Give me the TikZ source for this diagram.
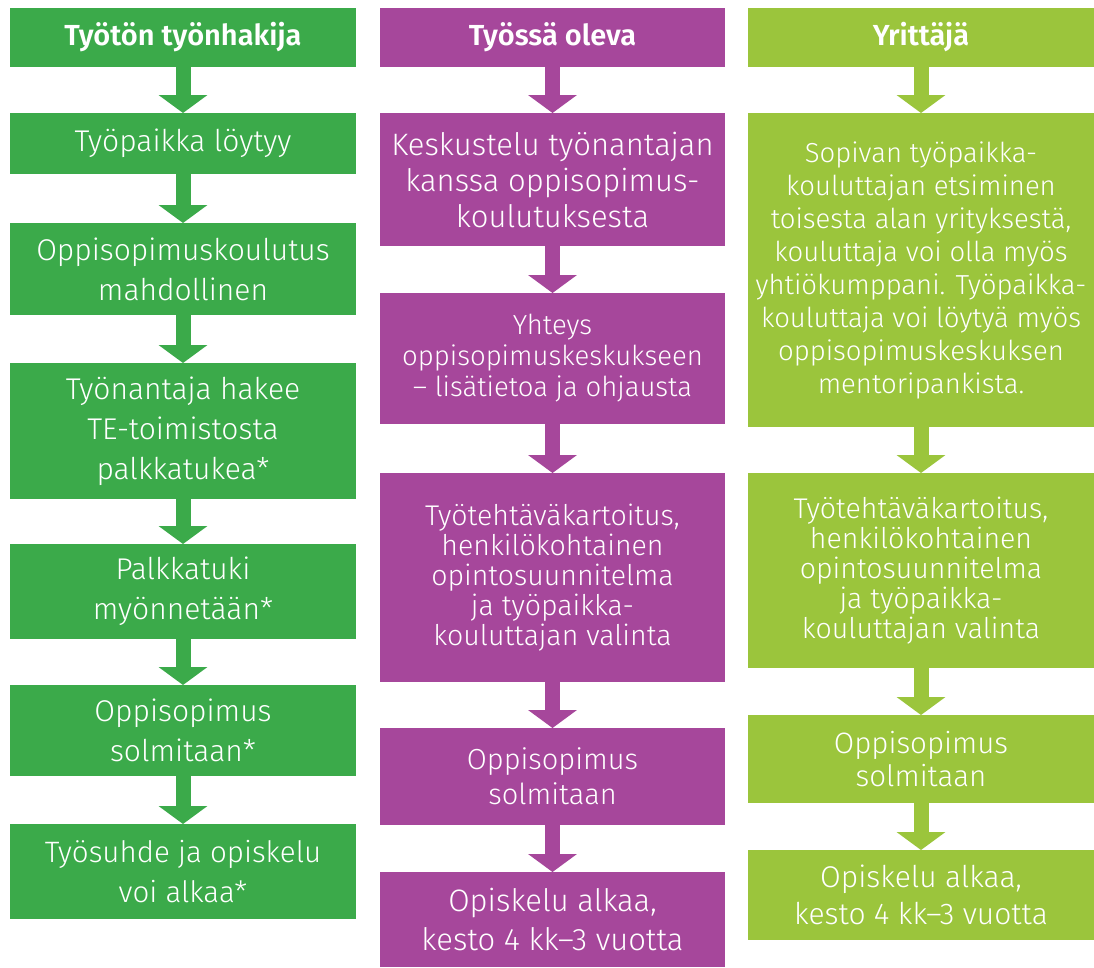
\documentclass[tikz,border=0pt]{standalone}
\usepackage{fontspec}
\setmainfont{Fira Sans}[UprightFont=* Light, BoldFont=* SemiBold]
\usetikzlibrary{arrows.meta}
\definecolor{cgreen}{HTML}{3BAA4A}
\definecolor{cpurple}{HTML}{A6479B}
\definecolor{clime}{HTML}{9BC53C}
\begin{document}
\begin{tikzpicture}[x=1pt,y=-1pt,
  fz/.style 2 args={font=\fontsize{#1}{#2}\selectfont},
  box/.style={rectangle, inner sep=0pt, outer sep=0pt, text=white, align=center, anchor=north west},
  lbox/.style={box, fill=cgreen, minimum width=346pt, fz={30}{40}},
  mbox/.style={box, fill=cpurple, minimum width=345pt},
  rbox/.style={box, fill=clime, minimum width=346pt},
  hdr/.style={minimum height=59pt, font=\fontsize{29}{34}\selectfont\bfseries},
  flow/.style={line width=15pt, -{Triangle[width=48pt,length=18pt]}},
]
\useasboundingbox (0,0) rectangle (1094,967);
\fill[white] (0,0) rectangle (1094,967);

% left column
\node[lbox,hdr] (l0) at (10,8) {Työtön työnhakija};
\node[lbox,minimum height=61pt] (l1) at (10,113) {Työpaikka löytyy};
\node[lbox,minimum height=92pt] (l2) at (10,223) {Oppisopimuskoulutus\\mahdollinen};
\node[lbox,minimum height=136pt] (l3) at (10,363) {Työnantaja hakee\\TE-toimistosta\\palkkatukea*};
\node[lbox,minimum height=95pt] (l4) at (10,544) {Palkkatuki\\myönnetään*};
\node[lbox,minimum height=91pt] (l5) at (10,685) {Oppisopimus\\solmitaan*};
\node[lbox,minimum height=95pt,fz={29.5}{40}] (l6) at (10,824) {Työsuhde ja opiskelu\\voi alkaa*};

% middle column
\node[mbox,hdr] (m0) at (380,8) {Työssä oleva};
\node[mbox,minimum height=133pt,fz={31}{36}] (m1) at (380,113) {Keskustelu työnantajan\\kanssa oppisopimus-\\koulutuksesta};
\node[mbox,minimum height=131pt,fz={27.5}{31}] (m2) at (380,293) {Yhteys\\oppisopimuskeskukseen\\– lisätietoa ja ohjausta};
\node[mbox,minimum height=209pt,fz={28.5}{30}] (m3) at (380,473) {Työtehtäväkartoitus,\\henkilökohtainen\\opintosuunnitelma\\ja työpaikka-\\kouluttajan valinta};
\node[mbox,minimum height=97pt,fz={29}{35}] (m4) at (380,728) {Oppisopimus\\solmitaan};
\node[mbox,minimum height=95pt,fz={31}{39}] (m5) at (380,872) {Opiskelu alkaa,\\kesto 4 kk–3 vuotta};

% right column
\node[rbox,hdr] (r0) at (748,8) {Yrittäjä};
\node[rbox,minimum height=314pt,fz={27.5}{33}] (r1) at (748,113) {Sopivan työpaikka-\\kouluttajan etsiminen\\toisesta alan yrityksestä,\\kouluttaja voi olla myös\\yhtiökumppani. Työpaikka-\\kouluttaja voi löytyä myös\\oppisopimuskeskuksen\\mentoripankista.};
\node[rbox,minimum height=195pt,fz={28.5}{30}] (r2) at (748,473) {Työtehtäväkartoitus,\\henkilökohtainen\\opintosuunnitelma\\ja työpaikka-\\kouluttajan valinta};
\node[rbox,minimum height=88pt,fz={29.5}{33}] (r3) at (748,715) {Oppisopimus\\solmitaan};
\node[rbox,minimum height=90pt,fz={30}{37}] (r4) at (748,850) {Opiskelu alkaa,\\kesto 4 kk–3 vuotta};

% arrows
\foreach \a/\b in {l0/l1,l1/l2,l2/l3,l3/l4,l4/l5,l5/l6}
  \draw[flow,cgreen] (\a.south) -- (\b.north);
\foreach \a/\b in {m0/m1,m1/m2,m2/m3,m3/m4,m4/m5}
  \draw[flow,cpurple] (\a.south) -- (\b.north);
\foreach \a/\b in {r0/r1,r1/r2,r2/r3,r3/r4}
  \draw[flow,clime] (\a.south) -- (\b.north);
\end{tikzpicture}
\end{document}
